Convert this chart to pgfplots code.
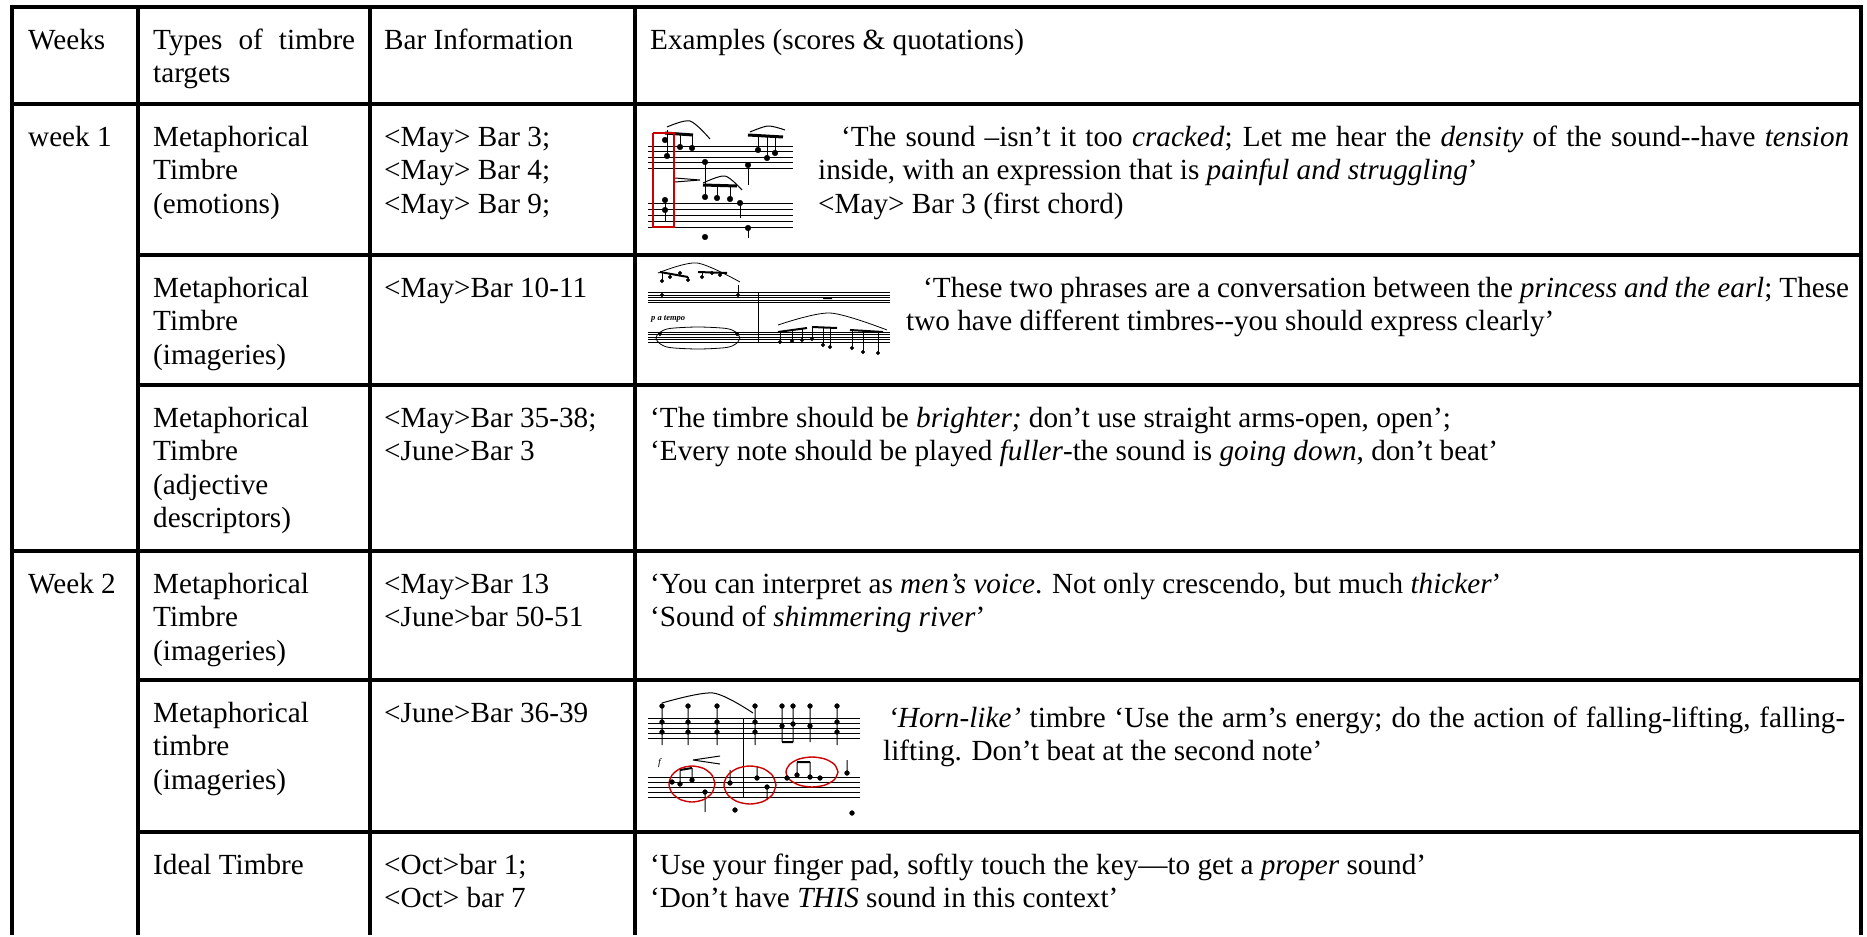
\documentclass[border=0pt]{standalone}
\usepackage{fontspec}
\setmainfont{Liberation Serif}
\usepackage{pgfplots}
\pgfplotsset{compat=1.18}
\newcommand{\T}[3]{\node[anchor=base west,inner sep=0pt] at (axis cs:#1,#2) {#3};}
\newcommand{\J}[4]{\node[anchor=base west,inner sep=0pt] at (axis cs:#1,#2) {\makebox[#3pt][s]{#4}};}
\begin{document}
\fontsize{29.2}{33.5}\selectfont
\begin{tikzpicture}
\begin{axis}[hide axis, scale only axis, width=1867pt, height=935pt,
  xmin=0, xmax=1867, ymin=0, ymax=935, y dir=reverse, clip=false,
  unbounded coords=jump]
\addplot[draw=none] coordinates {(0,0) (1867,935)};
% ---- table rules ----
\addplot[black, line width=3.8pt] coordinates {(12,7) (1861,7) (nan,nan) (12,104) (1861,104) (nan,nan) (12,551) (1861,551)};
\addplot[black, line width=3.8pt] coordinates {(138,255) (1861,255) (nan,nan) (138,385) (1861,385) (nan,nan) (138,680) (1861,680) (nan,nan) (138,832) (1861,832)};
\addplot[black, line width=3.8pt] coordinates {(12,5.1) (12,935) (nan,nan) (138,5.1) (138,935) (nan,nan) (370,5.1) (370,935) (nan,nan) (635,5.1) (635,935) (nan,nan) (1861,5.1) (1861,935)};
% ---- score 1 ----
\addplot[black, line width=0.9pt] coordinates {(648,146) (793,146) (nan,nan) (648,151.5) (793,151.5) (nan,nan) (648,157) (793,157) (nan,nan) (648,162.5) (793,162.5) (nan,nan) (648,168) (793,168)
 (nan,nan) (648,203) (793,203) (nan,nan) (648,209) (793,209) (nan,nan) (648,215) (793,215) (nan,nan) (648,221) (793,221) (nan,nan) (648,227) (793,227)};
\addplot[black, only marks, mark=*, mark size=2.8pt] coordinates {(665,140) (667,156) (680,147) (692,148) (705,162) (748,165) (758,150) (767,158) (775,153) (665,200) (665,210) (705,197) (717,198) (730,199) (740,203) (748,228) (705,237)};
\addplot[black, line width=1pt] coordinates {(667,156) (667,130) (nan,nan) (680,147) (680,133) (nan,nan) (692,148) (692,134) (nan,nan) (705,162) (705,185) (nan,nan) (758,150) (758,134) (nan,nan) (767,158) (767,135) (nan,nan) (775,153) (775,136) (nan,nan) (748,165) (748,185) (nan,nan) (705,197) (705,185) (nan,nan) (717,198) (717,185) (nan,nan) (730,199) (730,186) (nan,nan) (740,203) (740,218) (nan,nan) (748,228) (748,238) (nan,nan) (665,200) (665,222)};
\addplot[black, line width=3pt] coordinates {(665,133) (693,135) (nan,nan) (748,135) (783,137) (nan,nan) (703,185) (737,186)};
\addplot[black, line width=1pt, smooth] coordinates {(667,127) (690,121) (710,139)};
\addplot[black, line width=1pt, smooth] coordinates {(750,132) (768,126) (785,130)};
\addplot[black, line width=1pt, smooth] coordinates {(703,183) (725,176) (742,190)};
\addplot[black, line width=1pt] coordinates {(675,178) (700,180) (675,182)};
\addplot[red!80!black, line width=1.6pt] coordinates {(653,133) (674,133) (674,227) (653,227) (653,133)};
% ---- score 2 ----
\addplot[black, line width=0.6pt] coordinates {(648,292.5) (890,292.5) (nan,nan) (648,295) (890,295) (nan,nan) (648,297.5) (890,297.5) (nan,nan) (648,300) (890,300) (nan,nan) (648,302.5) (890,302.5)
 (nan,nan) (648,332) (890,332) (nan,nan) (648,334.5) (890,334.5) (nan,nan) (648,337) (890,337) (nan,nan) (648,339.5) (890,339.5) (nan,nan) (648,342) (890,342)
 (nan,nan) (758,292.5) (758,342)};
\addplot[black, only marks, mark=*, mark size=1.9pt] coordinates {(662,295) (662,281) (670,277) (680,273) (688,280) (702,277) (712,273) (720,275) (738,295) (660,334) (737,334) (780,342) (792,341) (802,340) (812,339) (823,345) (830,347) (852,348) (863,352) (878,353)};
\addplot[black, line width=0.8pt] coordinates {(662,281) (662,272) (nan,nan) (670,277) (670,273) (nan,nan) (680,273) (680,272) (nan,nan) (688,280) (688,277) (nan,nan) (702,277) (702,272) (nan,nan) (712,273) (712,272) (nan,nan) (720,275) (720,273) (nan,nan) (738,295) (738,285)
 (nan,nan) (780,342) (780,332) (nan,nan) (792,341) (792,331) (nan,nan) (802,340) (802,329) (nan,nan) (812,339) (812,327) (nan,nan) (823,345) (823,328) (nan,nan) (830,347) (830,328) (nan,nan) (852,348) (852,330) (nan,nan) (863,352) (863,331) (nan,nan) (878,353) (878,332)};
\addplot[black, line width=2pt] coordinates {(660,272) (688,277) (nan,nan) (698,272) (727,273) (nan,nan) (778,332) (807,328) (nan,nan) (812,327) (837,328) (nan,nan) (850,330) (883,332) (nan,nan) (823,298) (832,298)};
\addplot[black, line width=0.8pt, smooth] coordinates {(658,273) (697,263) (740,282)};
\addplot[black, line width=0.8pt, smooth] coordinates {(778,325) (830,313) (887,330)};
\addplot[black, line width=0.8pt, smooth] coordinates {(740,338) (736.4,343.5) (726.5,347.5) (698,349) (669.5,347.5) (659.6,343.5) (656,338) (659.6,332.5) (669.5,328.5) (698,327) (726.5,328.5) (736.4,332.5) (740,338)};
\node[anchor=base west, inner sep=0pt] at (axis cs:651,320) {\fontsize{8.5}{9}\selectfont\bfseries\itshape p a tempo};
% ---- score 3 ----
\addplot[black, line width=0.9pt] coordinates {(648,718) (860,718) (nan,nan) (648,723) (860,723) (nan,nan) (648,728) (860,728) (nan,nan) (648,733) (860,733) (nan,nan) (648,738) (860,738)
 (nan,nan) (648,777) (860,777) (nan,nan) (648,782) (860,782) (nan,nan) (648,787) (860,787) (nan,nan) (648,792) (860,792) (nan,nan) (648,797) (860,797)
 (nan,nan) (743,718) (743,797)};
\addplot[black, only marks, mark=*, mark size=2.4pt] coordinates {(662,722) (662,732) (688,722) (688,732) (717,722) (717,732) (755,722) (755,732) (782,726) (793,724) (810,726) (837,722) (837,732) (662,706) (688,706) (717,706) (755,706) (782,706) (793,706) (810,706) (837,706)
 (672,782) (680,784) (692,780) (705,792) (730,783) (757,778) (767,787) (787,778) (797,775) (810,777) (820,778) (847,773) (735,810) (852,813)};
\addplot[black, line width=1pt] coordinates {(662,706) (662,745) (nan,nan) (688,706) (688,745) (nan,nan) (717,706) (717,745) (nan,nan) (755,706) (755,745) (nan,nan) (782,706) (782,742) (nan,nan) (793,706) (793,742) (nan,nan) (810,706) (810,742) (nan,nan) (837,706) (837,745)
 (nan,nan) (680,784) (680,770) (nan,nan) (692,780) (692,768) (nan,nan) (705,792) (705,812) (nan,nan) (730,783) (730,770) (nan,nan) (757,778) (757,766) (nan,nan) (767,787) (767,800) (nan,nan) (797,775) (797,762) (nan,nan) (810,777) (810,762) (nan,nan) (847,773) (847,760) (nan,nan) (693,760) (720,756) (nan,nan) (693,760) (720,764)};
\addplot[black, line width=2pt] coordinates {(782,742) (793,742) (nan,nan) (797,762) (810,762) (nan,nan) (680,770) (692,768)};
\addplot[black, line width=1pt, smooth] coordinates {(662,703) (713,693) (753,713)};
\node[anchor=base west, inner sep=0pt] at (axis cs:658,765) {\fontsize{10}{11}\selectfont\itshape f};
\addplot[red!80!black, line width=1.4pt, smooth] coordinates {(715,784) (711.9,793) (703.5,799.6) (692,802) (680.5,799.6) (672.1,793) (669,784) (672.1,775) (680.5,768.4) (692,766) (703.5,768.4) (711.9,775) (715,784)};
\addplot[red!80!black, line width=1.4pt, smooth] coordinates {(776,785) (772.5,794.5) (763,801.5) (750,804) (737,801.5) (727.5,794.5) (724,785) (727.5,775.5) (737,768.5) (750,766) (763,768.5) (772.5,775.5) (776,785)};
\addplot[red!80!black, line width=1.4pt, smooth] coordinates {(838,772) (834.5,779.5) (825,785) (812,787) (799,785) (789.5,779.5) (786,772) (789.5,764.5) (799,759) (812,757) (825,759) (834.5,764.5) (838,772)};
% ---- header ----
\T{28}{49}{Weeks}
\J{153}{49}{202}{Types of timbre}
\T{153}{82.5}{targets}
\T{384}{49}{Bar Information}
\T{650}{49}{Examples (scores \& quotations)}
% ---- row 1 ----
\T{28}{146}{week 1}
\T{153}{146}{Metaphorical}
\T{153}{179.5}{Timbre}
\T{153}{213}{(emotions)}
\T{384}{146}{<May> Bar 3;}
\T{384}{179.5}{<May> Bar 4;}
\T{384}{213}{<May> Bar 9;}
\J{841}{146}{1008}{‘The sound –isn’t it too \textit{cracked}; Let me hear the \textit{density} of the sound-{}-have \textit{tension}}
\T{818}{179.5}{inside, with an expression that is \textit{painful and struggling}’}
\T{818}{213}{<May> Bar 3 (first chord)}
% ---- row 2 ----
\T{153}{297}{Metaphorical}
\T{153}{330.5}{Timbre}
\T{153}{364}{(imageries)}
\T{384}{297}{<May>Bar 10-11}
\J{923}{297}{926}{‘These two phrases are a conversation between the \textit{princess and the earl}; These}
\T{906}{330.5}{two have different timbres-{}-you should express clearly’}
% ---- row 3 ----
\T{153}{427}{Metaphorical}
\T{153}{460.5}{Timbre}
\T{153}{494}{(adjective}
\T{153}{527.5}{descriptors)}
\T{384}{427}{<May>Bar 35-38;}
\T{384}{460.5}{<June>Bar 3}
\T{650}{427}{‘The timbre should be \textit{brighter;} don’t use straight arms-open, open’;}
\T{650}{460.5}{‘Every note should be played \textit{fuller}-the sound is \textit{going down}, don’t beat’}
% ---- row 4 ----
\T{28}{593}{Week 2}
\T{153}{593}{Metaphorical}
\T{153}{626.5}{Timbre}
\T{153}{660}{(imageries)}
\T{384}{593}{<May>Bar 13}
\T{384}{626.5}{<June>bar 50-51}
\T{650}{593}{‘You can interpret as \textit{men’s voice}. Not only crescendo, but much \textit{thicker}’}
\T{650}{626.5}{‘Sound of \textit{shimmering river}’}
% ---- row 5 ----
\T{153}{722}{Metaphorical}
\T{153}{755.5}{timbre}
\T{153}{789}{(imageries)}
\T{384}{722}{<June>Bar 36-39}
\J{888}{727}{957}{\textit{‘Horn-like’} timbre ‘Use the arm’s energy; do the action of falling-lifting, falling-}
\T{883}{760.5}{lifting. Don’t beat at the second note’}
% ---- row 6 ----
\T{153}{874}{Ideal Timbre}
\T{384}{874}{<Oct>bar 1;}
\T{384}{907.5}{<Oct> bar 7}
\T{650}{874}{‘Use your finger pad, softly touch the key—to get a \textit{proper} sound’}
\T{650}{907.5}{‘Don’t have \textit{THIS} sound in this context’}
\end{axis}
\end{tikzpicture}
\end{document}
